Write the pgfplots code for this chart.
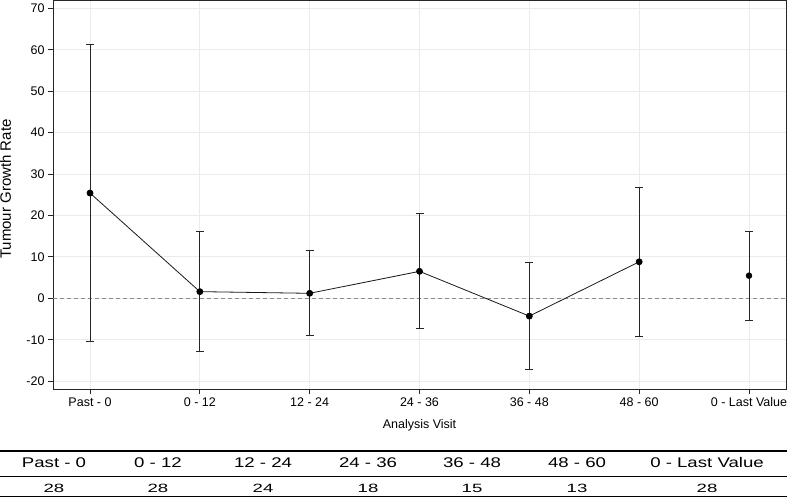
\documentclass[border=0pt]{standalone}
\usepackage{fontspec}
\setmainfont{Liberation Sans}
\usepackage{graphicx}
\usepackage{pgfplots}
\usepackage{pgfplotstable}
\pgfplotsset{compat=1.18}

\pgfplotstableread{
x y ep em
0 25.4 35.8 35.9
1 1.6 14.5 14.5
2 1.2 10.4 10.2
3 6.5 13.9 13.8
4 -4.3 13.0 12.8
5 8.8 18.0 18.1
}\connected

\pgfplotstableread{
x y ep em
6 5.45 10.75 10.75
}\lastvalue

\newcommand{\hdr}[1]{\scalebox{1.33}[1]{#1}}
\newcommand{\num}[1]{\scalebox{1.55}[1]{#1}}

\begin{document}
\begin{tikzpicture}[x=1pt,y=1pt]
\path[use as bounding box] (0,0) rectangle (787,499);
\begin{axis}[
  at={(53pt,110pt)}, anchor=south west,
  scale only axis, width=733pt, height=389pt,
  xmin=-0.337, xmax=6.337, ymin=-21.9, ymax=72,
  xtick={0,1,2,3,4,5,6},
  xticklabels={Past - 0, 0 - 12, 12 - 24, 24 - 36, 36 - 48, 48 - 60, 0 - Last Value},
  ytick={-20,-10,0,10,20,30,40,50,60,70},
  tick align=outside, tick pos=left, major tick length=5pt,
  grid=major, major grid style={color=black!8, line width=0.8pt},
  axis line style={black!85, line width=0.9pt},
  tick style={black!85, line width=0.9pt},
  ticklabel style={font=\fontsize{12.5}{14}\selectfont},
  /pgf/number format/assume math mode=true,
  xlabel={Analysis Visit}, ylabel={Tumour Growth Rate},
  xlabel style={font=\fontsize{12.5}{14}\selectfont, at={(axis description cs:0.5,-0.0925)}, anchor=center},
  ylabel style={font=\fontsize{15}{17}\selectfont, at={(axis description cs:-0.0647,0.514)}, anchor=center},
]
\addplot[black!45, line width=0.8pt, dash pattern=on 4pt off 3pt] coordinates {(-0.337,0) (6.337,0)};
\addplot[black!90, line width=0.8pt, mark=*, mark size=3pt, mark options={solid, fill=black, draw=black},
  error bars/.cd, y dir=both, y explicit,
  error bar style={black!85, line width=0.9pt},
  error mark options={rotate=90, mark size=4pt, black!85, line width=0.9pt}]
  table[x=x, y=y, y error plus=ep, y error minus=em] {\connected};
\addplot[only marks, mark=*, mark size=3pt, mark options={fill=black, draw=black},
  error bars/.cd, y dir=both, y explicit,
  error bar style={black!85, line width=0.9pt},
  error mark options={rotate=90, mark size=4pt, black!85, line width=0.9pt}]
  table[x=x, y=y, y error plus=ep, y error minus=em] {\lastvalue};
\end{axis}
% summary table below the chart
\draw[line width=2.3pt] (0,48) -- (787,48);
\draw[line width=1pt] (0,23) -- (787,23);
\draw[line width=1.5pt] (0,2.3) -- (787,2.3);
\begin{scope}[every node/.style={font=\fontsize{14}{16}\selectfont, inner sep=0pt}]
\node at (54,36.3) {\hdr{Past - 0}};
\node at (158,36.3) {\hdr{0 - 12}};
\node at (263,36.3) {\hdr{12 - 24}};
\node at (368,36.3) {\hdr{24 - 36}};
\node at (472,36.3) {\hdr{36 - 48}};
\node at (577,36.3) {\hdr{48 - 60}};
\node at (707,36.3) {\hdr{0 - Last Value}};
\end{scope}
\begin{scope}[every node/.style={font=\fontsize{12}{14}\selectfont, inner sep=0pt}]
\node at (54,10.2) {\num{28}};
\node at (158,10.2) {\num{28}};
\node at (263,10.2) {\num{24}};
\node at (368,10.2) {\num{18}};
\node at (472,10.2) {\num{15}};
\node at (577,10.2) {\num{13}};
\node at (707,10.2) {\num{28}};
\end{scope}
\end{tikzpicture}
\end{document}
